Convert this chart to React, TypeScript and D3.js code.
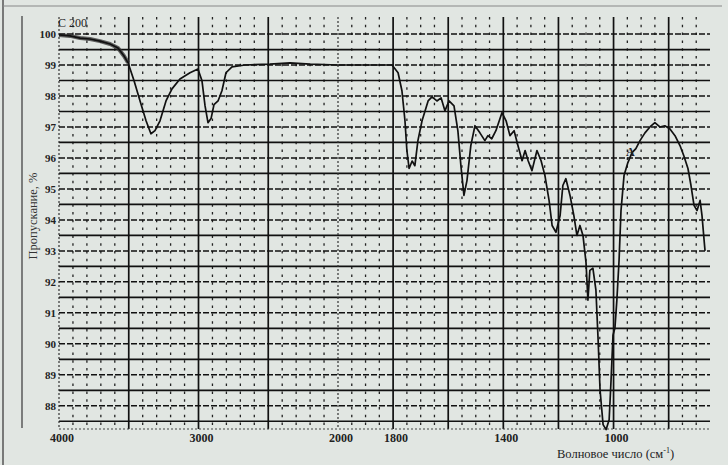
import React from "react";
import * as d3 from "d3";

// Spectrum: wavenumber (cm^-1) and transmittance (%)
const wavenumbers = [
  4000, 3921, 3849, 3778, 3706, 3634, 3577, 3534, 3505, 3462, 3419, 3376, 3341, 3312, 3276, 3233,
  3190, 3133, 3061, 3004, 2975, 2953, 2932, 2910, 2889, 2860, 2832, 2803, 2760, 2667, 2488, 2344,
  2201, 2000, 1884, 1804, 1782, 1768, 1757, 1750, 1742, 1731, 1721, 1710, 1695, 1673, 1659, 1641,
  1626, 1612, 1597, 1579, 1565, 1554, 1543, 1532, 1518, 1503, 1485, 1467, 1456, 1442, 1427, 1405,
  1390, 1376, 1361, 1347, 1332, 1321, 1310, 1296, 1278, 1263, 1249, 1234, 1223, 1209, 1194, 1184,
  1173, 1158, 1144, 1133, 1122, 1111, 1100, 1093, 1086, 1075, 1064, 1056, 1049, 1038, 1027, 1016,
  1009, 1002, 995, 988, 980, 973, 962, 948, 933, 919, 904, 886, 868, 850, 832, 814,
  796, 777, 759, 745, 730, 719, 708, 697, 686, 679, 671, 668,
];
const transmittance = [
  99.97, 99.94, 99.87, 99.84, 99.77, 99.68, 99.55, 99.29, 99.07, 98.49, 97.84, 97.2, 96.78, 96.88, 97.2, 97.84,
  98.23, 98.55, 98.75, 98.87, 98.49, 97.68, 97.14, 97.27, 97.72, 97.84, 98.17, 98.75, 98.94, 99.0, 99.03, 99.07,
  99.03, 99.0, 99.0, 99.0, 98.75, 98.17, 97.2, 96.24, 95.66, 95.9, 95.75, 96.56, 97.2, 97.84, 97.97, 97.84,
  97.94, 97.52, 97.84, 97.68, 96.88, 95.75, 94.79, 95.27, 96.4, 97.04, 96.81, 96.56, 96.72, 96.62, 96.88, 97.46,
  97.2, 96.72, 96.88, 96.4, 95.91, 96.24, 95.91, 95.59, 96.24, 95.91, 95.43, 94.63, 93.82, 93.6, 94.14, 95.11,
  95.33, 94.79, 94.14, 93.5, 93.82, 93.5, 92.63, 91.41, 92.37, 92.44, 91.73, 90.12, 88.51, 87.39, 87.23, 87.55,
  88.84, 90.28, 90.51, 91.41, 92.7, 94.3, 95.43, 95.85, 96.17, 96.3, 96.56, 96.81, 97.0, 97.14, 97.0, 97.04,
  96.94, 96.72, 96.4, 96.07, 95.66, 95.11, 94.47, 94.3, 94.63, 94.14, 93.3, 93.0,
];

const yTickValues = [100, 99, 98, 97, 96, 95, 94, 93, 92, 91, 90, 89, 88];
const xTickValues = [4000, 3000, 2000, 1800, 1400, 1000];
const majorVerticals = [3500, 3000, 2500, 1800, 1600, 1400, 1200, 1000, 800];
const sampleLabel = "C 200";
const curveLabel = "A";
const yTitle = "Пропускание, %";
const xTitle = "Волновое число (см";

const W = 728;
const H = 465;
const FONT = "'Liberation Serif', 'DejaVu Serif', serif";

export default function App() {
  const x = d3.scaleLinear().domain([4000, 2000, 650]).range([59, 338, 710]);
  const y = d3.scaleLinear().domain([87.25, 100.55]).range([429, 17]);
  const x0 = x(4000);
  const x1 = x(650);
  const yTop = y(100.55);
  const yBot = y(87.25);

  const hLines: { v: number; solid: boolean }[] = [];
  for (let v = 87.5; v <= 100.01; v += 0.5) {
    hLines.push({ v, solid: Math.abs(v - Math.round(v)) > 0.1 });
  }
  const minorV: number[] = [];
  for (let w = 3900; w > 2000; w -= 100) if (w % 500 !== 0) minorV.push(w);
  for (let w = 1950; w > 650; w -= 50) if (w % 200 !== 0) minorV.push(w);

  const line = d3
    .line<number>()
    .x((_, i) => x(wavenumbers[i]))
    .y((d) => y(d))
    .curve(d3.curveLinear);

  const headIdx = wavenumbers.filter((w) => w >= 3505).length;
  const headLine = d3
    .line<number>()
    .x((_, i) => x(wavenumbers[i]))
    .y((d) => y(d));

  return (
    <svg
      width={W}
      height={H}
      style={{ position: "absolute", left: 0, top: 0, background: "#e1e6e2" }}
    >
      <rect x={0} y={0} width={W} height={H} fill="#e1e6e2" />
      {/* scan frame */}
      <line x1={3} y1={0} x2={3} y2={H} stroke="#555" strokeWidth={1.5} />
      <line x1={3} y1={6} x2={722} y2={6} stroke="#888" strokeWidth={1.2} />
      <line x1={22} y1={16} x2={22} y2={428} stroke="#444" strokeWidth={1.3} />

      {/* minor vertical dotted lines */}
      {minorV.map((w) => (
        <line
          key={"mv" + w}
          x1={x(w)}
          x2={x(w)}
          y1={yTop}
          y2={yBot}
          stroke="#222"
          strokeWidth={1.3}
          strokeDasharray="2.5 5.3"
        />
      ))}
      {/* horizontal grid */}
      {hLines.map((h) => (
        <line
          key={"h" + h.v}
          x1={x0}
          x2={x1}
          y1={y(h.v)}
          y2={y(h.v)}
          stroke="#111"
          strokeWidth={h.solid ? 1.7 : 1.5}
          strokeDasharray={h.solid ? undefined : "6 2"}
        />
      ))}
      {/* major verticals */}
      {majorVerticals.map((w) => (
        <line key={"MV" + w} x1={x(w)} x2={x(w)} y1={yTop} y2={yBot} stroke="#111" strokeWidth={1.7} />
      ))}
      {/* 2000 and left edge dotted */}
      <line x1={x(2000)} x2={x(2000)} y1={yTop} y2={yBot} stroke="#333" strokeWidth={1.2} strokeDasharray="2 2" />
      <line x1={x0} x2={x0} y1={yTop} y2={yBot} stroke="#333" strokeWidth={1.2} strokeDasharray="2 2" />
      <line x1={x0} x2={x1} y1={yBot} y2={yBot} stroke="#444" strokeWidth={1.2} strokeDasharray="2 2" />

      {/* spectrum */}
      <path
        d={headLine(transmittance.slice(0, headIdx)) || ""}
        fill="none"
        stroke="#333"
        strokeWidth={4}
        strokeLinejoin="round"
        opacity={0.75}
      />
      <path d={line(transmittance) || ""} fill="none" stroke="#111" strokeWidth={1.7} strokeLinejoin="round" />

      {/* y ticks */}
      {yTickValues.map((v) => (
        <text
          key={"yt" + v}
          x={x0 - 3}
          y={y(v) + 4}
          textAnchor="end"
          fontFamily={FONT}
          fontWeight="bold"
          fontSize={11}
          fill="#222"
        >
          {v}
        </text>
      ))}
      {/* x ticks */}
      {xTickValues.map((v) => (
        <text
          key={"xt" + v}
          x={x(v) + 3}
          y={442}
          textAnchor="middle"
          fontFamily={FONT}
          fontWeight="bold"
          fontSize={12}
          fill="#222"
        >
          {v}
        </text>
      ))}
      <text x={58} y={27} fontFamily={FONT} fontSize={12} fill="#222">
        {sampleLabel}
      </text>
      <text x={x(955)} y={y(96.05)} fontFamily={FONT} fontWeight="bold" fontSize={12} fill="#222">
        {curveLabel}
      </text>
      <text
        transform={`translate(37, 216) rotate(-90)`}
        textAnchor="middle"
        fontFamily={FONT}
        fontSize={12.5}
        fill="#333"
      >
        {yTitle}
      </text>
      <text x={557} y={458} fontFamily={FONT} fontSize={12.5} fill="#222">
        {xTitle}
        <tspan dy={-5} fontSize={8}>
          -1
        </tspan>
        <tspan dy={5}>)</tspan>
      </text>
    </svg>
  );
}
